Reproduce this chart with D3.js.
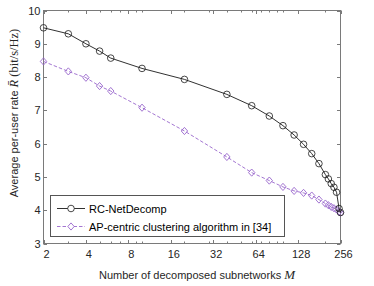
<!DOCTYPE html>
<html>
<head>
<meta charset="utf-8">
<script src="https://cdn.jsdelivr.net/npm/d3@7"></script>
<style>
  body { margin: 0; background: #fff; }
  svg { display: block; font-family: "Liberation Sans", Arial, sans-serif; }
</style>
</head>
<body>
<div id="chart"></div>
<script>

// number of decomposed subnetworks M (same grid for both curves)
var subnets = [2, 3, 4, 5, 6, 10, 20, 40, 60, 80, 100, 120, 140, 160, 180, 200, 210, 220, 230, 240, 250, 256];

// average per-user rate, bit/s/Hz
var rateRC = [9.48, 9.30, 9.00, 8.78, 8.57, 8.26, 7.93, 7.48, 7.14, 6.83, 6.54, 6.26, 5.98, 5.70, 5.40, 5.07, 4.94, 4.80, 4.69, 4.54, 4.05, 3.93];
var rateAP = [8.47, 8.17, 7.98, 7.73, 7.58, 7.08, 6.38, 5.60, 5.13, 4.89, 4.70, 4.58, 4.52, 4.44, 4.32, 4.20, 4.15, 4.10, 4.06, 4.02, 3.96, 3.92];

var xTicks = [2, 4, 8, 16, 32, 64, 128, 256];
var xMinor = [3, 5, 6, 7, 9, 10, 20, 30, 40, 50, 60, 70, 80, 90, 100, 200];
var yTicks = [3, 4, 5, 6, 7, 8, 9, 10];

var legendNames = ["RC-NetDecomp", "AP-centric clustering algorithm in [34]"];

//====================================================================================

var width = 374, height = 286;
var plotL = 43.5, plotR = 340.5, plotT = 10.5, plotB = 243.5;

var svg = d3.select("#chart").append("svg")
    .attr("width", width)
    .attr("height", height);

var x = d3.scaleLog().base(2).domain([2, 256]).range([plotL, plotR]);
var y = d3.scaleLinear().domain([3, 10]).range([plotB, plotT]);

var axisColor = "#7a7a7a";
var textColor = "#262626";

// box
svg.append("rect")
    .attr("x", plotL).attr("y", plotT)
    .attr("width", plotR - plotL).attr("height", plotB - plotT)
    .attr("fill", "none")
    .attr("stroke", axisColor)
    .attr("stroke-width", 1);

// ticks, pointing inward
var tickG = svg.append("g").attr("stroke", axisColor).attr("stroke-width", 1);

xTicks.forEach(function(t){
    var px = Math.round(x(t)) + 0.5;
    tickG.append("line").attr("x1", px).attr("x2", px).attr("y1", plotB).attr("y2", plotB - 3.5);
    tickG.append("line").attr("x1", px).attr("x2", px).attr("y1", plotT).attr("y2", plotT + 3.5);
});
xMinor.forEach(function(t){
    var px = Math.round(x(t)) + 0.5;
    tickG.append("line").attr("x1", px).attr("x2", px).attr("y1", plotB).attr("y2", plotB - 2);
    tickG.append("line").attr("x1", px).attr("x2", px).attr("y1", plotT).attr("y2", plotT + 2);
});
yTicks.forEach(function(t){
    var py = Math.round(y(t)) + 0.5;
    tickG.append("line").attr("x1", plotL).attr("x2", plotL + 3.5).attr("y1", py).attr("y2", py);
    tickG.append("line").attr("x1", plotR).attr("x2", plotR - 3.5).attr("y1", py).attr("y2", py);
});

// tick labels
svg.append("g").selectAll("text")
    .data(xTicks).enter().append("text")
    .attr("x", function(d){ return x(d) + 3; })
    .attr("y", 258)
    .attr("text-anchor", "middle")
    .attr("font-size", 11)
    .attr("fill", textColor)
    .text(function(d){ return d; });

svg.append("g").selectAll("text")
    .data(yTicks).enter().append("text")
    .attr("x", 40.5)
    .attr("y", function(d){ return y(d) + 4; })
    .attr("text-anchor", "end")
    .attr("font-size", 11)
    .attr("fill", textColor)
    .text(function(d){ return d; });

// axis titles
var xt = svg.append("text")
    .attr("x", 197).attr("y", 278.5)
    .attr("text-anchor", "middle")
    .attr("font-size", 11)
    .attr("fill", textColor);
xt.append("tspan").text("Number of decomposed subnetworks ");
xt.append("tspan")
    .attr("font-family", "'Liberation Serif', 'DejaVu Serif', serif")
    .attr("font-style", "italic")
    .attr("font-size", 13)
    .text("M");

var yt = svg.append("text")
    .attr("transform", "translate(18,113) rotate(-90)")
    .attr("text-anchor", "middle")
    .attr("font-size", 11)
    .attr("fill", textColor);
yt.append("tspan").text("Average per-user rate ");
yt.append("tspan")
    .attr("font-family", "'Liberation Serif', 'DejaVu Serif', serif")
    .attr("font-style", "italic")
    .attr("font-size", 12.5)
    .text("R\u0304");
yt.append("tspan")
    .attr("font-family", "'Liberation Serif', 'DejaVu Serif', serif")
    .attr("font-size", 12.5)
    .text(" (bit/s/Hz)");

//====================================================================================

var line = d3.line()
    .x(function(d){ return x(d[0]); })
    .y(function(d){ return y(d[1]); });

var rcData = subnets.map(function(m, i){ return [m, rateRC[i]]; });
var apData = subnets.map(function(m, i){ return [m, rateAP[i]]; });

var purple = "#9966cc";

function diamond(cx, cy){
    return "M" + cx + "," + (cy - 3.6) + "L" + (cx + 3.2) + "," + cy +
           "L" + cx + "," + (cy + 3.6) + "L" + (cx - 3.2) + "," + cy + "Z";
}

svg.append("path")
    .datum(apData)
    .attr("d", line)
    .attr("fill", "none")
    .attr("stroke", purple)
    .attr("stroke-width", 0.9)
    .attr("stroke-dasharray", "3.5,2");

svg.append("g").selectAll("path")
    .data(apData).enter().append("path")
    .attr("d", function(d){ return diamond(x(d[0]), y(d[1])); })
    .attr("fill", "none")
    .attr("stroke", purple)
    .attr("stroke-width", 0.9);

svg.append("path")
    .datum(rcData)
    .attr("d", line)
    .attr("fill", "none")
    .attr("stroke", "#1a1a1a")
    .attr("stroke-width", 0.9);

svg.append("g").selectAll("circle")
    .data(rcData).enter().append("circle")
    .attr("cx", function(d){ return x(d[0]); })
    .attr("cy", function(d){ return y(d[1]); })
    .attr("r", 3.3)
    .attr("fill", "none")
    .attr("stroke", "#1a1a1a")
    .attr("stroke-width", 0.8);

//===================================legend=====================================

var lg = svg.append("g");
lg.append("rect")
    .attr("x", 50.5).attr("y", 195.5)
    .attr("width", 234).attr("height", 41)
    .attr("fill", "#fff")
    .attr("stroke", "#555")
    .attr("stroke-width", 1);

// first entry
lg.append("line").attr("x1", 57).attr("x2", 85).attr("y1", 208.5).attr("y2", 208.5)
    .attr("stroke", "#1a1a1a").attr("stroke-width", 0.9);
lg.append("circle").attr("cx", 71).attr("cy", 208.5).attr("r", 3.3)
    .attr("fill", "#fff").attr("stroke", "#1a1a1a").attr("stroke-width", 0.8);
lg.append("text").attr("x", 89).attr("y", 212.5)
    .attr("font-size", 11).attr("fill", "#000").text(legendNames[0]);

// second entry
lg.append("line").attr("x1", 57).attr("x2", 85).attr("y1", 226.5).attr("y2", 226.5)
    .attr("stroke", purple).attr("stroke-width", 0.9).attr("stroke-dasharray", "3.5,2");
lg.append("path").attr("d", diamond(71, 226.5))
    .attr("fill", "#fff").attr("stroke", purple).attr("stroke-width", 0.9);
lg.append("text").attr("x", 89).attr("y", 230.5)
    .attr("font-size", 11).attr("fill", "#000").text(legendNames[1]);

</script>
</body>
</html>
